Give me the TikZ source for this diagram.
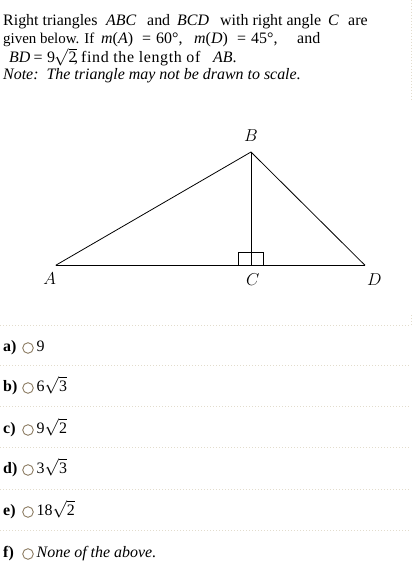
\documentclass[tikz,border=0pt]{standalone}
\usepackage{fontspec}
\setmainfont{Liberation Serif}
\begin{document}
\begin{tikzpicture}[x=1bp,y=-1bp,
  txt/.style={inner sep=0pt,anchor=base west,font=\fontsize{16}{18}\selectfont},
  opt/.style={inner sep=0pt,anchor=base west,font=\fontsize{16}{18}\selectfont\bfseries},
  lbl/.style={inner sep=0pt,font=\fontsize{18}{20}\selectfont},
  radio/.style={draw={rgb,255:red,135;green,118;blue,92},line width=0.85bp},
  sep/.style={draw={rgb,255:red,226;green,220;blue,205},line width=0.8bp,dash pattern=on 1bp off 2bp},
  edge/.style={line width=0.8bp,black}]
\useasboundingbox (0,0) rectangle (412,565);
% question text
\node[txt] (q1a) at (3,26) {Right triangles};
\node[txt] (q1b) at (106,26) {\textit{ABC}};
\node[txt] (q1c) at (147,26) {and};
\node[txt] (q1d) at (177,26) {\textit{BCD}};
\node[txt] (q1e) at (220,26) {with right angle};
\node[txt] (q1f) at (328,26) {\textit{C}};
\node[txt] (q1g) at (348,26) {are};
\node[txt,font=\fontsize{15}{18}\selectfont] (q2a) at (3,44) {given below. If};
\node[txt] (q2b) at (101,44) {\textit{m}(\textit{A})};
\node[txt] (q2c) at (142,44) {=};
\node[txt] (q2d) at (156,44) {60°,};
\node[txt] (q2e) at (194,44) {\textit{m}(\textit{D})};
\node[txt] (q2f) at (237,44) {=};
\node[txt] (q2g) at (251,44) {45°,};
\node[txt] (q2h) at (297,44) {and};
\node[txt] (q3a) at (9,63) {\textit{BD}};
\node[txt] (q3b) at (33.5,63) {=};
\node[txt] (q3c) at (47,63) {9};
\node[txt] (q3d) at (54,63) {$\sqrt{\mbox{2}}$};
\node[txt] (q3e) at (74,63) {,};
\node[txt] (q3f) at (81,63) {\addfontfeature{LetterSpace=4}find the length of};
\node[txt] (q3g) at (213,63) {\textit{AB}.};
\node[txt] (q4) at (3,80) {\textit{Note:\ \ The triangle may not be drawn to scale.}};
% diagram
\coordinate (A) at (55.7,265.3);
\coordinate (B) at (251,152);
\coordinate (C) at (251,265.3);
\coordinate (D) at (365,265.3);
\coordinate (S1) at (238.5,252.3);
\coordinate (S2) at (263.5,265.3);
\draw[edge] (A) -- (D);
\draw[edge] (A) -- (B) -- (D);
\draw[edge] (B) -- (C);
\draw[edge] (S1) rectangle (S2);
\node[lbl] (lA) at (49.7,279) {$A$};
\node[lbl] (lB) at (251,135.5) {$B$};
\node[lbl] (lC) at (252.7,280) {$C$};
\node[lbl] (lD) at (374.3,280) {$D$};
% separators
\coordinate (v1) at (411.3,0);
\coordinate (v2) at (411.3,102);
\coordinate (v3) at (411.3,315);
\coordinate (v4) at (411.3,325);
\draw[sep] (v1) -- (v2);
\draw[sep] (v3) -- (v4);
\foreach \y in {325,365,406,447,489,530}{
  \draw[sep] (0,\y) -- (411,\y);
}
% options
\node[opt] (oa) at (3,351) {a)};
\node[opt] (ob) at (3,391) {b)};
\node[opt] (oc) at (3,433) {c)};
\node[opt] (od) at (3,473) {d)};
\node[opt] (oe) at (3,515) {e)};
\node[opt] (of) at (3,557) {f)};
\foreach \b in {351,391,433,473,515,557}{
  \draw[radio] (28,\b-3) circle (5.3);
}
\node[txt] (ta) at (36.5,351) {9};
\node[txt] (tb) at (36.5,391) {6$\sqrt{\mbox{3}}$};
\node[txt] (tc) at (36.5,433) {9$\sqrt{\mbox{2}}$};
\node[txt] (td) at (36.5,473) {3$\sqrt{\mbox{3}}$};
\node[txt] (te) at (36.5,515) {18$\sqrt{\mbox{2}}$};
\node[txt] (tf) at (36.5,557) {\textit{None of the above.}};
\end{tikzpicture}
\end{document}
